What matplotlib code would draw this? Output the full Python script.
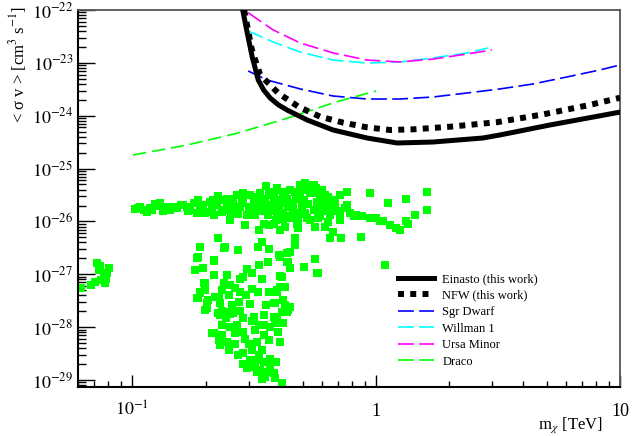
import matplotlib
matplotlib.use("Agg")
import matplotlib.pyplot as plt
from matplotlib.ticker import FixedLocator, FixedFormatter, LogLocator, NullFormatter
from matplotlib.lines import Line2D

plt.rcParams['font.family'] = ['Liberation Serif', 'DejaVu Serif']
plt.rcParams['mathtext.fontset'] = 'stix'

# ---------------- data ----------------
einasto_m = [0.284, 0.2965, 0.3107, 0.3289, 0.346, 0.3682, 0.398, 0.4321, 0.522, 0.6668, 0.9188, 1.219, 1.711, 2.742, 3.218, 5.156, 10.0]
einasto_sv = [1.0e-22, 3.67e-23, 1.29e-23, 4.74e-24, 3.07e-24, 2.16e-24, 1.6e-24, 1.28e-24, 8.3e-25, 5.37e-25, 3.79e-25, 3.05e-25, 3.18e-25, 3.79e-25, 4.32e-25, 6.67e-25, 1.17e-24]

nfw_m = [0.288, 0.3098, 0.3351, 0.3982, 0.4807, 0.5899, 0.7348, 0.9161, 1.141, 1.421, 2.009, 3.12, 4.84, 7.516, 10.0]
nfw_sv = [1.0e-22, 1.75e-23, 5.89e-24, 2.65e-24, 1.48e-24, 9.57e-25, 7.38e-25, 6.04e-25, 5.37e-25, 5.53e-25, 6.19e-25, 7.52e-25, 1.06e-24, 1.60e-24, 2.19e-24]

sgr_m = [0.299, 0.3579, 0.4885, 0.6668, 0.9188, 1.254, 1.711, 2.358, 3.218, 4.391, 6.05, 8.26, 10.0]
sgr_sv = [7.02e-24, 4.74e-24, 3.21e-24, 2.36e-24, 2.07e-24, 2.07e-24, 2.26e-24, 2.69e-24, 3.21e-24, 3.98e-24, 5.40e-24, 7.33e-24, 9.12e-24]

willman_m = [0.299, 0.3788, 0.4885, 0.6668, 0.9188, 1.254, 1.711, 2.358, 2.874]
willman_sv = [4.01e-23, 2.48e-23, 1.60e-23, 1.13e-23, 9.93e-24, 1.04e-23, 1.24e-23, 1.54e-23, 1.91e-23]

ursa_m = [0.299, 0.3788, 0.4885, 0.6668, 0.9188, 1.254, 1.711, 2.358, 2.984]
ursa_sv = [8.89e-23, 4.19e-23, 2.38e-23, 1.54e-23, 1.13e-23, 1.04e-23, 1.18e-23, 1.47e-23, 1.75e-23]

draco_m = [0.1009, 0.168, 0.269, 0.431, 0.690, 1.0]
draco_sv = [1.81e-25, 2.79e-25, 4.65e-25, 8.93e-25, 1.84e-24, 2.94e-24]

# scan points (green squares)
lowmass_m = [0.0618, 0.068, 0.0703, 0.0721, 0.0729, 0.0747, 0.0764, 0.0771, 0.0788, 0.0806, 0.0738, 0.078]
lowmass_sv = [5.5e-28, 6.3e-28, 7.1e-28, 1.63e-27, 1.21e-27, 7.8e-28, 8.9e-28, 6.9e-28, 1.06e-27, 1.32e-27, 1.43e-27, 8.2e-28]

band_m = [0.1031, 0.1115, 0.1188, 0.1305, 0.139, 0.153, 0.168, 0.179, 0.185, 0.196,
          0.209, 0.216, 0.230, 0.236, 0.245, 0.252, 0.268, 0.277, 0.295, 0.305,
          0.315, 0.335, 0.346, 0.357, 0.363, 0.381, 0.392, 0.398, 0.404, 0.417,
          0.430, 0.444, 0.458, 0.465, 0.480, 0.488, 0.511, 0.536, 0.55, 0.57,
          0.588, 0.62, 0.646, 0.667, 0.710, 0.76, 0.76, 0.81, 0.857, 0.942,
          0.942, 1.034, 1.12, 1.137, 1.25, 1.33, 1.44, 1.35, 1.61, 1.61,
          0.78, 0.83, 0.875, 1.0, 1.07, 1.21, 1.33,
          0.87, 0.72, 0.646, 0.667, 0.617, 0.561, 0.465, 0.465,
          0.505, 0.555, 0.588, 0.636, 0.657, 0.69, 0.617, 0.555, 0.495, 0.458,
          0.417, 0.392, 0.381, 0.423, 0.474, 0.519, 0.392, 0.404, 0.381, 0.430,
          0.536, 0.505,
          0.108, 0.115, 0.1245, 0.143, 0.158, 0.173, 0.190, 0.203, 0.222, 0.26,
          0.285, 0.33, 0.34, 0.30, 0.265, 0.319, 0.36, 0.437, 0.215,
          0.224, 0.19, 0.241, 0.329, 0.363, 0.341,
          0.1061, 0.121, 0.128, 0.134, 0.147, 0.162, 0.170, 0.187, 0.1994, 0.225,
          0.247, 0.26, 0.272, 0.285, 0.31, 0.325, 0.351, 0.368, 0.375, 0.40,
          0.415, 0.444, 0.47, 0.525, 0.58, 0.60, 0.678, 0.71, 0.488, 0.536,
          0.588, 0.636, 0.744,
          0.194, 0.213, 0.233, 0.245, 0.254, 0.282, 0.30, 0.33, 0.343, 0.375,
          0.39, 0.425, 0.444, 0.462, 0.488, 0.511, 0.525, 0.566, 0.58, 0.61,
          0.646, 0.678, 0.71, 0.355, 0.417, 0.48, 0.363, 0.291, 0.33]
band_sv = [1.7e-26, 1.65e-26, 1.8e-26, 2.2e-26, 1.9e-26, 1.8e-26, 1.9e-26, 2.2e-26, 1.45e-26, 2.05e-26,
           2.35e-26, 1.32e-26, 2.54e-26, 1.65e-26, 2.7e-26, 1.06e-26, 3.16e-26, 1.9e-26, 1.32e-26, 3.16e-26,
           2.2e-26, 3.5e-26, 8.9e-27, 1.9e-26, 3.6e-26, 2.54e-26, 4.3e-26, 1.45e-26, 6.9e-27, 2.2e-26,
           1.25e-26, 3.93e-26, 1.9e-26, 3.6e-26, 1.06e-26, 4.89e-26, 5.3e-26, 4.89e-26, 3.4e-26, 2.35e-26,
           1.65e-26, 3.16e-26, 2.2e-26, 1.55e-26, 1.45e-26, 3.6e-26, 2.05e-26, 1.25e-26, 1.25e-26, 1.15e-26,
           3.4e-26, 1.0e-26, 2.2e-26, 8.56e-27, 6.89e-27, 2.7e-26, 1.32e-26, 8.9e-27, 3.6e-26, 1.65e-26,
           1.45e-26, 1.32e-26, 1.27e-26, 1.15e-26, 1.0e-26, 7.4e-27, 1.0e-26,
           5.1e-27, 4.8e-27, 4.8e-27, 6.4e-27, 8e-27, 8e-27, 4.8e-27, 3.58e-27,
           4.89e-26, 4.89e-26, 3.16e-26, 2.9e-26, 2.2e-26, 1.55e-26, 1.55e-26, 1.65e-26, 1.9e-26, 1.65e-26,
           1.45e-26, 1.25e-26, 8.9e-27, 8e-27, 8.9e-27, 1.15e-26, 3.93e-26, 2.54e-26, 3.4e-26, 2.7e-26,
           3.4e-26, 2.54e-26,
           1.9e-26, 1.5e-26, 2.1e-26, 1.65e-26, 2.05e-26, 1.65e-26, 1.85e-26, 1.5e-26, 2.05e-26, 2.05e-26,
           2.54e-26, 2.54e-26, 1.55e-26, 1.85e-26, 1.45e-26, 1.32e-26, 1.32e-26, 1.85e-26, 2.54e-26,
           4.8e-27, 3.3e-27, 3.3e-27, 3.3e-27, 3.0e-27, 4.1e-27,
           1.8e-26, 1.65e-26, 1.95e-26, 1.58e-26, 1.85e-26, 2.05e-26, 1.58e-26, 2.54e-26, 1.45e-26, 3.0e-26,
           2.05e-26, 2.7e-26, 1.38e-26, 3.4e-26, 1.65e-26, 2.9e-26, 2.54e-26, 1.55e-26, 3.16e-26, 1.95e-26,
           3.6e-26, 1.15e-26, 2.7e-26, 3.93e-26, 2.2e-26, 3.93e-26, 2.54e-26, 3.16e-26, 1.38e-26, 1.06e-26,
           1.27e-26, 9.7e-27, 1.8e-26,
           1.65e-26, 1.85e-26, 1.5e-26, 2.3e-26, 1.5e-26, 2.25e-26, 1.5e-26, 1.85e-26, 2.7e-26, 2.05e-26,
           1.06e-26, 2.9e-26, 2.2e-26, 1.45e-26, 3.4e-26, 1.45e-26, 2.1e-26, 4.3e-26, 1.15e-26, 2.2e-26,
           1.32e-26, 1.85e-26, 1.06e-26, 4.6e-26, 1.1e-26, 7.4e-27, 8.7e-27, 8.56e-27, 6.9e-27]

plume_m = [0.187, 0.181, 0.196, 0.216, 0.237, 0.40, 0.43, 0.444, 0.505, 0.561,
           0.57, 0.296, 0.31, 0.245, 0.341, 0.404, 0.198, 0.237, 0.276, 0.233,
           0.265, 0.277, 0.31, 0.392, 0.423, 0.19, 0.187, 0.227, 0.23, 0.203,
           0.273, 0.303, 0.385, 0.423, 0.437, 0.41, 0.1994, 0.233, 0.23, 0.252,
           0.277, 0.315, 0.346, 0.38,
           0.241, 0.26, 0.392, 0.43, 0.233, 0.252, 0.216, 0.233, 0.265, 0.286,
           0.31, 0.319, 0.346, 0.368, 0.385, 0.417, 0.398, 0.245, 0.265, 0.291,
           0.324, 0.346, 0.404, 0.23, 0.249, 0.286, 0.31, 0.341, 0.286, 0.305,
           0.324, 0.346, 0.368, 0.368, 0.296, 0.319, 0.335, 0.357, 0.381, 0.351,
           0.385, 0.41, 0.324,
           0.185, 0.216, 0.1994, 0.19, 0.185, 0.203, 0.219, 0.224, 0.212, 0.227,
           0.43, 0.404, 0.437, 0.58, 0.41, 0.404, 0.392, 0.381, 0.444, 1.09,
           0.205, 0.25, 0.257, 0.294, 0.329, 0.355, 0.364, 0.285, 0.33, 0.30,
           0.364, 0.272, 0.33, 0.39, 0.34, 0.268, 0.243, 0.416, 0.252, 0.285,
           0.33, 0.272, 0.36, 0.444, 0.216, 0.1994]
plume_sv = [2.15e-27, 1.21e-27, 1.3e-27, 1.8e-27, 3.2e-27, 2.32e-27, 1.73e-27, 2.7e-27, 1.4e-27, 1.99e-27,
            1.04e-27, 1.25e-27, 1.08e-27, 9.7e-28, 8.0e-28, 9.3e-28, 6.8e-28, 6.8e-28, 8.0e-28, 5.05e-28,
            5.4e-28, 4.6e-28, 5.2e-28, 5.05e-28, 5.8e-28, 4.5e-28, 3.6e-28, 3.8e-28, 2.84e-28, 2.84e-28,
            3.0e-28, 2.75e-28, 2.84e-28, 2.63e-28, 2.11e-28, 1.96e-28, 2.11e-28, 2.05e-28, 1.7e-28, 1.78e-28,
            2.05e-28, 1.54e-28, 1.7e-28, 1.54e-28,
            1.96e-28, 1.82e-28, 1.47e-28, 1.96e-28, 1.1e-28, 1.02e-28, 7.6e-29, 7.11e-29, 7.6e-29, 8.2e-29,
            1.28e-28, 8.84e-29, 1.1e-28, 1.02e-28, 1.19e-28, 1.19e-28, 8.2e-29, 5.3e-29, 4.9e-29, 6.1e-29,
            5.3e-29, 7.11e-29, 5.3e-29, 4.6e-29, 3.7e-29, 3.2e-29, 3.7e-29, 3.7e-29, 2.0e-29, 2.39e-29,
            2.39e-29, 2.2e-29, 2.55e-29, 1.92e-29, 1.66e-29, 1.79e-29, 1.55e-29, 1.44e-29, 1.34e-29, 1.16e-29,
            1.08e-29, 8.6e-30, 1.44e-29,
            2.0e-27, 1.86e-27, 6.8e-28, 4.6e-28, 3.6e-28, 2.3e-28, 3.8e-28, 1.82e-28, 7.6e-29, 5.7e-29,
            2.5e-27, 2.15e-27, 1.73e-27, 1.04e-27, 9.0e-28, 5.8e-28, 4.6e-28, 2.84e-28, 2.45e-28, 1.5e-27,
            3.27e-28, 4.06e-28, 2.63e-28, 4.06e-28, 4.6e-28, 2.63e-28, 4.6e-28, 1.47e-28, 1.1e-28, 4.9e-29,
            5.72e-29, 2.97e-29, 2.97e-29, 2.2e-29, 1.06e-29, 1.1e-28, 1.47e-28, 3.27e-28, 6.28e-28, 8.9e-28,
            1.5e-27, 2.88e-27, 1.72e-27, 1.3e-27, 9.7e-28, 5.05e-28]

xtick_values = [0.1, 1, 10]
xtick_labels = [r'$10^{-1}$', '1', '10']
ytick_values = [1e-29, 1e-28, 1e-27, 1e-26, 1e-25, 1e-24, 1e-23, 1e-22]
ytick_labels = [r'$10^{-29}$', r'$10^{-28}$', r'$10^{-27}$', r'$10^{-26}$',
                r'$10^{-25}$', r'$10^{-24}$', r'$10^{-23}$', r'$10^{-22}$']

legend_labels = ['Einasto (this work)', 'NFW (this work)', 'Sgr Dwarf', 'Willman 1', 'Ursa Minor', 'Draco']

# ---------------- figure ----------------
W, H = 639, 436
fig = plt.figure(figsize=(W / 100, H / 100), dpi=100)
ax = fig.add_axes([78 / W, 1 - 387 / H, 542 / W, 377 / H])
ax.set_xscale('log')
ax.set_yscale('log')
ax.set_xlim(0.06, 10)
ax.set_ylim(7.38e-30, 1e-22)

green = '#00ff00'
for mm, ss in ((lowmass_m, lowmass_sv), (band_m, band_sv), (plume_m, plume_sv)):
    ax.plot(mm, ss, linestyle='none', marker='s', ms=5.5, mfc=green, mec=green,
            mew=0, zorder=2)

dash = (9.5, 3.2)
h_ein, = ax.plot(einasto_m, einasto_sv, color='black', lw=3.6, zorder=5,
                 solid_joinstyle='round')
h_nfw, = ax.plot(nfw_m, nfw_sv, color='black', lw=4.3, zorder=5,
                 linestyle=(0, (1.0, 1.05)), dash_capstyle='butt')
h_sgr, = ax.plot(sgr_m, sgr_sv, color='#0000ff', lw=1.2, dashes=dash, zorder=4)
h_wil, = ax.plot(willman_m, willman_sv, color='#00ffff', lw=1.2, dashes=dash, zorder=4)
h_urs, = ax.plot(ursa_m, ursa_sv, color='#ff00ff', lw=1.2, dashes=dash, zorder=4)
h_dra, = ax.plot(draco_m, draco_sv, color='#00ff00', lw=1.2, dashes=(8, 3.5), zorder=4)

leg = ax.legend([h_ein, h_nfw, h_sgr, h_wil, h_urs, Line2D([], [], color='#00ff00', lw=1.2, dashes=dash)],
                legend_labels, loc='upper left',
                bbox_to_anchor=((398 - 78) / 542, (387 - 273) / 377),
                frameon=False, fontsize=9, handlelength=2.9, handletextpad=0.65,
                labelspacing=0.36, borderpad=0, borderaxespad=0)

# axes style (ROOT-like)
for side in ('left', 'bottom'):
    ax.spines[side].set_linewidth(1.5)
    ax.spines[side].set_color('black')
for side in ('top', 'right'):
    ax.spines[side].set_linewidth(1.3)
    ax.spines[side].set_color('#555555')

ax.xaxis.set_major_locator(FixedLocator(xtick_values))
ax.xaxis.set_major_formatter(FixedFormatter(xtick_labels))
ax.xaxis.set_minor_locator(LogLocator(base=10, subs=range(2, 10), numticks=20))
ax.xaxis.set_minor_formatter(NullFormatter())
ax.yaxis.set_major_locator(FixedLocator(ytick_values))
ax.yaxis.set_major_formatter(FixedFormatter(ytick_labels))
ax.yaxis.set_minor_locator(LogLocator(base=10, subs=range(2, 10), numticks=20))
ax.yaxis.set_minor_formatter(NullFormatter())

ax.tick_params(axis='both', which='both', direction='in', top=False, right=False,
               color='black', width=1.0)
ax.tick_params(axis='x', which='major', length=8.5, labelsize=13, pad=21)
ax.tick_params(axis='x', which='minor', length=4.5)
ax.tick_params(axis='y', which='major', length=12, labelsize=13, pad=3.5)
ax.tick_params(axis='y', which='minor', length=6)

fig.canvas.draw()
for lab in ax.get_xticklabels():
    lab.set_verticalalignment('baseline')

ax.text((603 - 78) / 542, (387 - 425) / 377, r'm$_{\chi}$ [TeV]', transform=ax.transAxes,
        ha='right', va='center', fontsize=12)
ax.text((18 - 78) / 542, (387 - 6) / 377, '< σ v > [cm$^{3}$ s$^{-1}$]', transform=ax.transAxes,
        ha='center', va='top', rotation=90, fontsize=12)

fig.savefig('out.png', dpi=100)
